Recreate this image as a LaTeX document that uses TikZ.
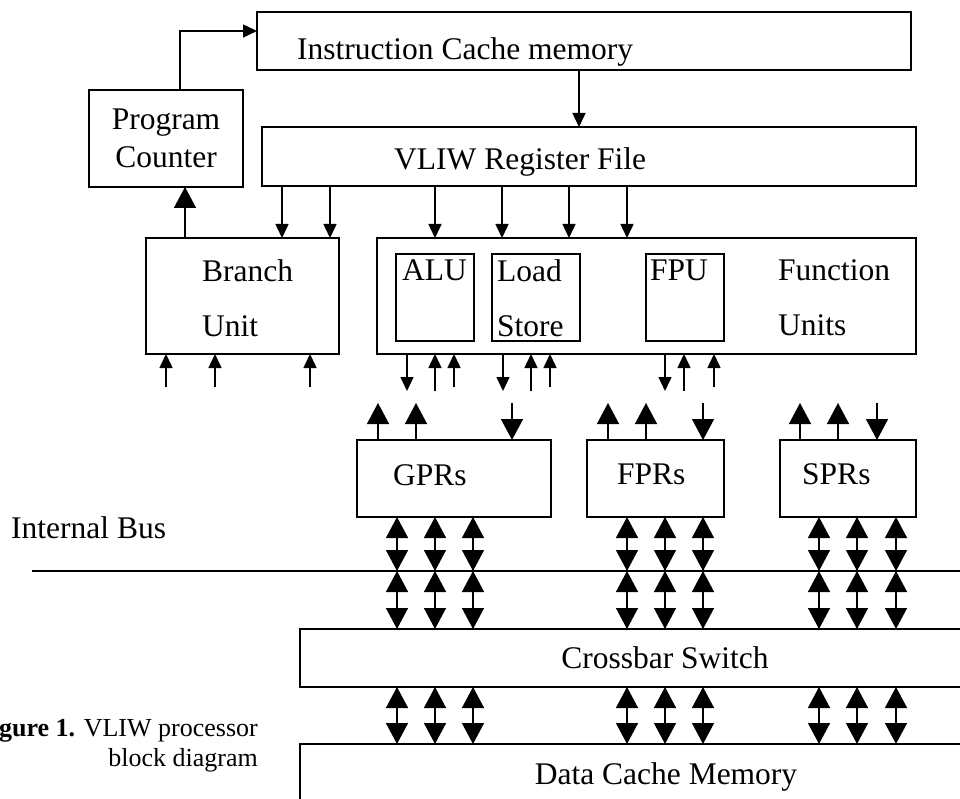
\documentclass[tikz,border=0pt]{standalone}
\usepackage{fontspec}
\setmainfont{Liberation Serif}
\usepackage{tikz}
\usetikzlibrary{arrows.meta,positioning}

\begin{document}
\begin{tikzpicture}[
    x=1pt, y=-1pt,
    box/.style={rectangle, draw, line width=1.5pt, inner sep=0pt, outer sep=0pt, align=center, font=\fontsize{31.5}{38}\selectfont},
    txt/.style={inner sep=0pt, font=\fontsize{31.5}{38}\selectfont},
    twoline/.style={inner sep=0pt, align=left, font=\fontsize{31.5}{55}\selectfont},
    sarrow/.style={-{Triangle[width=13pt, length=14pt]}, line width=1.5pt},
    barrow/.style={-{Triangle[width=22pt, length=21pt]}, line width=1.5pt},
    darrow/.style={{Triangle[width=22pt, length=21pt]}-{Triangle[width=22pt, length=21pt]}, line width=1.5pt}
]
\useasboundingbox (0,0) rectangle (960,799);
\clip (0,0) rectangle (960,799);

% Instruction side
\node[box, minimum width=654pt, minimum height=58pt] (icache) at (584,41) {};
\node[txt, anchor=base west] (icachetxt) at (297,60) {Instruction Cache memory};
\node[box, minimum width=154pt, minimum height=97pt] (pc) at (166,138.5) {Program\\Counter};
\node[box, minimum width=654pt, minimum height=59pt] (vliw) at (589,156.5) {};
\node[txt, anchor=base west] (vliwtxt) at (394,170) {VLIW Register File};

% Branch unit and function units
\node[box, minimum width=193pt, minimum height=116pt] (branch) at (242.5,296) {};
\node[twoline, anchor=north west] (branchtxt) at (202,259.5) {Branch\\Unit};
\node[box, minimum width=539pt, minimum height=116pt] (fu) at (646.5,296) {};
\node[box, minimum width=78pt, minimum height=87pt] (alu) at (435,297.5) {};
\node[txt, anchor=base west] (alutxt) at (402,281) {ALU};
\node[box, minimum width=88pt, minimum height=87pt] (ls) at (536,297.5) {};
\node[twoline, anchor=north west] (lstxt) at (497,259.5) {Load\\Store};
\node[box, minimum width=78pt, minimum height=87pt] (fpu) at (685,297.5) {};
\node[txt, anchor=base west] (fputxt) at (650,281) {FPU};
\node[twoline, anchor=north west] (futxt) at (778,259.5) {Function\\Units};

% Register files
\node[box, minimum width=194pt, minimum height=77pt] (gpr) at (454,478.5) {};
\node[txt, anchor=base west] (gprtxt) at (393,485) {GPRs};
\node[box, minimum width=137pt, minimum height=77pt] (fpr) at (655.5,478.5) {};
\node[txt, anchor=base west] (fprtxt) at (617,484) {FPRs};
\node[box, minimum width=136pt, minimum height=77pt] (spr) at (848,478.5) {};
\node[txt, anchor=base west] (sprtxt) at (802,484) {SPRs};

% Bus, crossbar and data cache
\coordinate (busL) at (32,571);
\coordinate (busR) at (960,571);
\draw[line width=1.5pt] (busL) -- (busR);
\node[txt, anchor=base west] (bustxt) at (11,538) {Internal Bus};
\node[box, minimum width=730pt, minimum height=58pt] (xbar) at (665,658) {Crossbar Switch};
\node[box, minimum width=732pt, minimum height=66pt] (dcache) at (666,777) {Data Cache Memory};

% Caption
\node[anchor=north east, align=right, inner sep=0pt, font=\fontsize{26}{30}\selectfont] (caption) at (258,718.5) {\textbf{Figure 1.} VLIW processor\\block diagram};

% Fetch path
\draw[sarrow] ([xshift=14pt]pc.north) |- ([yshift=10pt]icache.west);
\draw[sarrow] (icache.south -| 579,0) -- (vliw.north -| 579,0);
\draw[barrow] (branch.north -| 185,0) -- (pc.south -| 185,0);

% Issue to units
\foreach \x in {282,330}
    \draw[sarrow] (vliw.south -| \x,0) -- (branch.north -| \x,0);
\foreach \x in {435,502,569,627}
    \draw[sarrow] (vliw.south -| \x,0) -- (fu.north -| \x,0);

% Branch unit inputs
\foreach \x [count=\i] in {166,215,310} {
    \coordinate (bin\i) at (\x,387);
    \draw[sarrow] (bin\i) -- (branch.south -| bin\i);
}

% Function unit outputs and inputs
\foreach \x [count=\i] in {407,503,665} {
    \coordinate (fout\i) at (\x,391);
    \draw[sarrow] (fu.south -| fout\i) -- (fout\i);
}
\foreach \x/\y [count=\i] in {435/391,454/387,531/391,550/387,684/391,714/387} {
    \coordinate (fin\i) at (\x,\y);
    \draw[sarrow] (fin\i) -- (fu.south -| fin\i);
}

% Register file ports
\foreach \reg/\a/\b/\c in {gpr/378/416/512, fpr/608/646/703, spr/800/838/877} {
    \coordinate (\reg out1) at (\a,403);
    \coordinate (\reg out2) at (\b,403);
    \coordinate (\reg in) at (\c,403);
    \draw[barrow] (\reg.north -| \reg out1) -- (\reg out1);
    \draw[barrow] (\reg.north -| \reg out2) -- (\reg out2);
    \draw[barrow] (\reg in) -- (\reg.north -| \reg in);
}

% Bidirectional links
\foreach \reg/\xa/\xb/\xc in {gpr/397/435/473, fpr/627/665/703, spr/819/857/896}
    \foreach \x in {\xa,\xb,\xc} {
        \draw[darrow] (\reg.south -| \x,0) -- (busL -| \x,0);
        \draw[darrow] (busL -| \x,0) -- (xbar.north -| \x,0);
        \draw[darrow] (xbar.south -| \x,0) -- (dcache.north -| \x,0);
    }

\end{tikzpicture}
\end{document}
